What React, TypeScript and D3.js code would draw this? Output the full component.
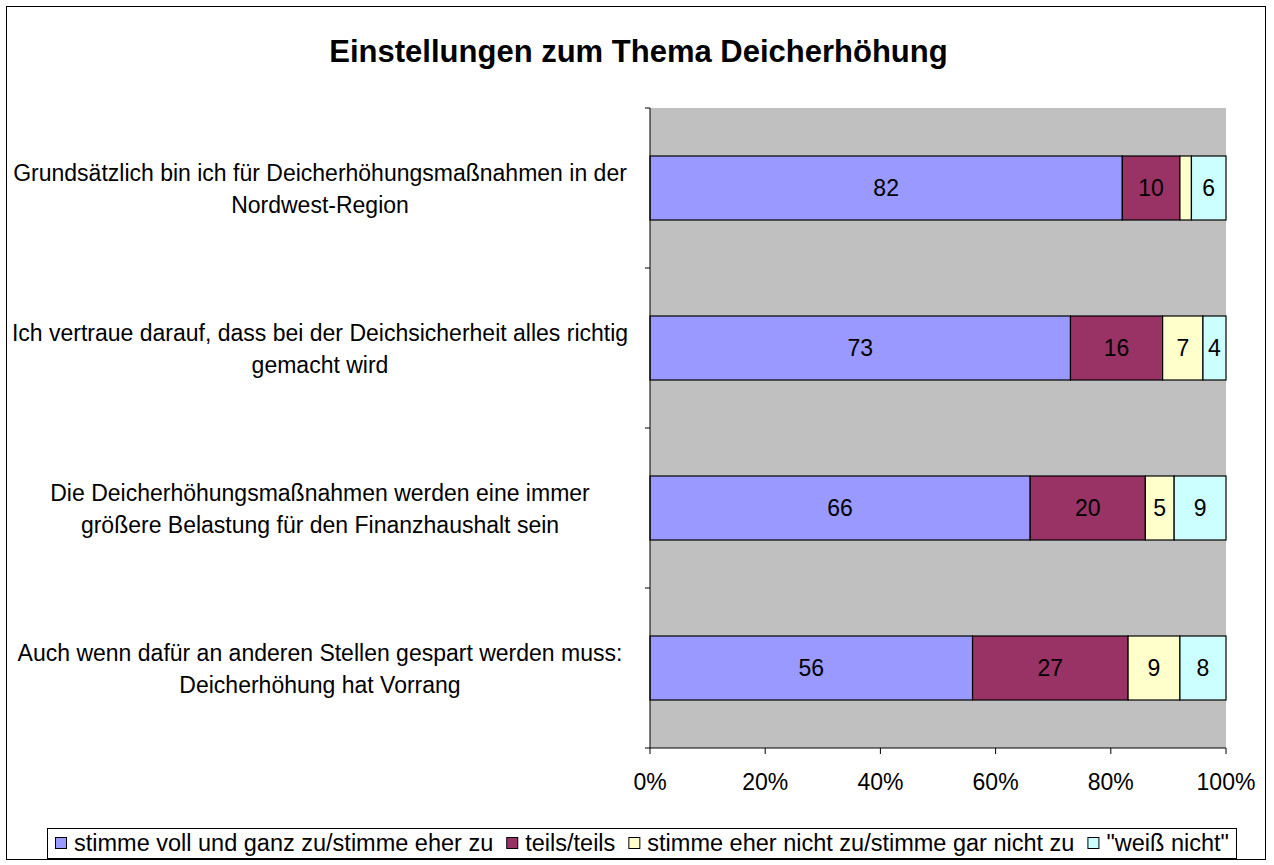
import React from "react";
import * as d3 from "d3";

const categories: string[][] = [
  ["Grundsätzlich bin ich für Deicherhöhungsmaßnahmen in der", "Nordwest-Region"],
  ["Ich vertraue darauf, dass bei der Deichsicherheit alles richtig", "gemacht wird"],
  ["Die Deicherhöhungsmaßnahmen werden eine immer", "größere Belastung für den Finanzhaushalt sein"],
  ["Auch wenn dafür an anderen Stellen gespart werden muss:", "Deicherhöhung hat Vorrang"],
];
const seriesNames = [
  "stimme voll und ganz zu/stimme eher zu",
  "teils/teils",
  "stimme eher nicht zu/stimme gar nicht zu",
  "\"weiß nicht\"",
];
const agree = [82, 73, 66, 56];
const partly = [10, 16, 20, 27];
const disagree = [2, 7, 5, 9];
const dontKnow = [6, 4, 9, 8];
const colors = ["#9999FF", "#993366", "#FFFFCC", "#CCFFFF"];
const ticks = [0, 20, 40, 60, 80, 100];

const FONT = "'Liberation Sans', Arial, sans-serif";

function measure(s: string, size: number): number {
  const c = document.createElement("canvas").getContext("2d");
  if (!c) return s.length * size * 0.5;
  c.font = `${size}px 'Liberation Sans', Arial, sans-serif`;
  return c.measureText(s).width;
}

export default function App() {
  const W = 1274, H = 865;
  const left = 650, right = 1226, top = 108, bottom = 748;
  const x = d3.scaleLinear().domain([0, 100]).range([left, right]);
  const y = d3.scaleBand<number>().domain(d3.range(categories.length)).range([top, bottom]).paddingInner(0.6).paddingOuter(0.3);
  const band = (bottom - top) / categories.length;
  const data = categories.map((_, i) => [agree[i], partly[i], disagree[i], dontKnow[i]]);
  const fs = 23;

  const legendFont = 23.5;
  const legendY = 843;
  const widths = seriesNames.map((s) => measure(s, legendFont));
  let cx = 55;
  const legendItems = seriesNames.map((s, i) => {
    const item = { s, i, x: cx };
    cx += 19 + widths[i] + 13;
    return item;
  });

  return (
    <svg width={W} height={H} style={{ position: "absolute", left: 0, top: 0 }} fontFamily={FONT}>
      <rect x={0} y={0} width={W} height={H} fill="#fff" />
      <rect x={6.5} y={6.5} width={1259} height={853} fill="#fff" stroke="#000" strokeWidth={1} />
      <text x={638.5} y={62} textAnchor="middle" fontSize={31} fontWeight="bold">
        Einstellungen zum Thema Deicherhöhung
      </text>
      <rect x={left} y={top} width={right - left} height={bottom - top} fill="#C0C0C0" />
      {data.map((row, i) => {
        let acc = 0;
        const by = y(i)!;
        const bh = y.bandwidth();
        const center = top + band * i + band / 2;
        return (
          <g key={i}>
            {row.map((v, j) => {
              const x0 = x(acc);
              acc += v;
              const x1 = x(acc);
              return (
                <g key={j}>
                  <rect x={x0} y={by} width={x1 - x0} height={bh} fill={colors[j]} stroke="#000" strokeWidth={1.2} />
                  {v >= 3 && (
                    <text x={(x0 + x1) / 2} y={by + bh / 2 + 8} textAnchor="middle" fontSize={fs}>
                      {v}
                    </text>
                  )}
                </g>
              );
            })}
            {categories[i].map((line, k) => (
              <text key={k} x={320} y={center - 7 + k * 32} textAnchor="middle" fontSize={fs}>
                {line}
              </text>
            ))}
          </g>
        );
      })}
      <line x1={left} x2={left} y1={top} y2={bottom} stroke="#000" />
      {d3.range(categories.length + 1).map((i) => (
        <line key={i} x1={left - 5} x2={left} y1={top + band * i} y2={top + band * i} stroke="#000" />
      ))}
      <line x1={left} x2={right} y1={bottom} y2={bottom} stroke="#000" />
      {ticks.map((t) => (
        <g key={t}>
          <line x1={x(t)} x2={x(t)} y1={bottom} y2={bottom + 6} stroke="#000" />
          <text x={x(t)} y={bottom + 42} textAnchor="middle" fontSize={fs}>
            {t}%
          </text>
        </g>
      ))}
      <rect x={47.5} y={828.5} width={1189} height={30} fill="#fff" stroke="#000" />
      {legendItems.map(({ s, i, x: lx }) => (
        <g key={i}>
          <rect x={lx + 0.5} y={legendY - 5.5} width={11} height={11} fill={colors[i]} stroke="#000" />
          <text x={lx + 19} y={legendY + 8} fontSize={legendFont}>
            {s}
          </text>
        </g>
      ))}
    </svg>
  );
}
